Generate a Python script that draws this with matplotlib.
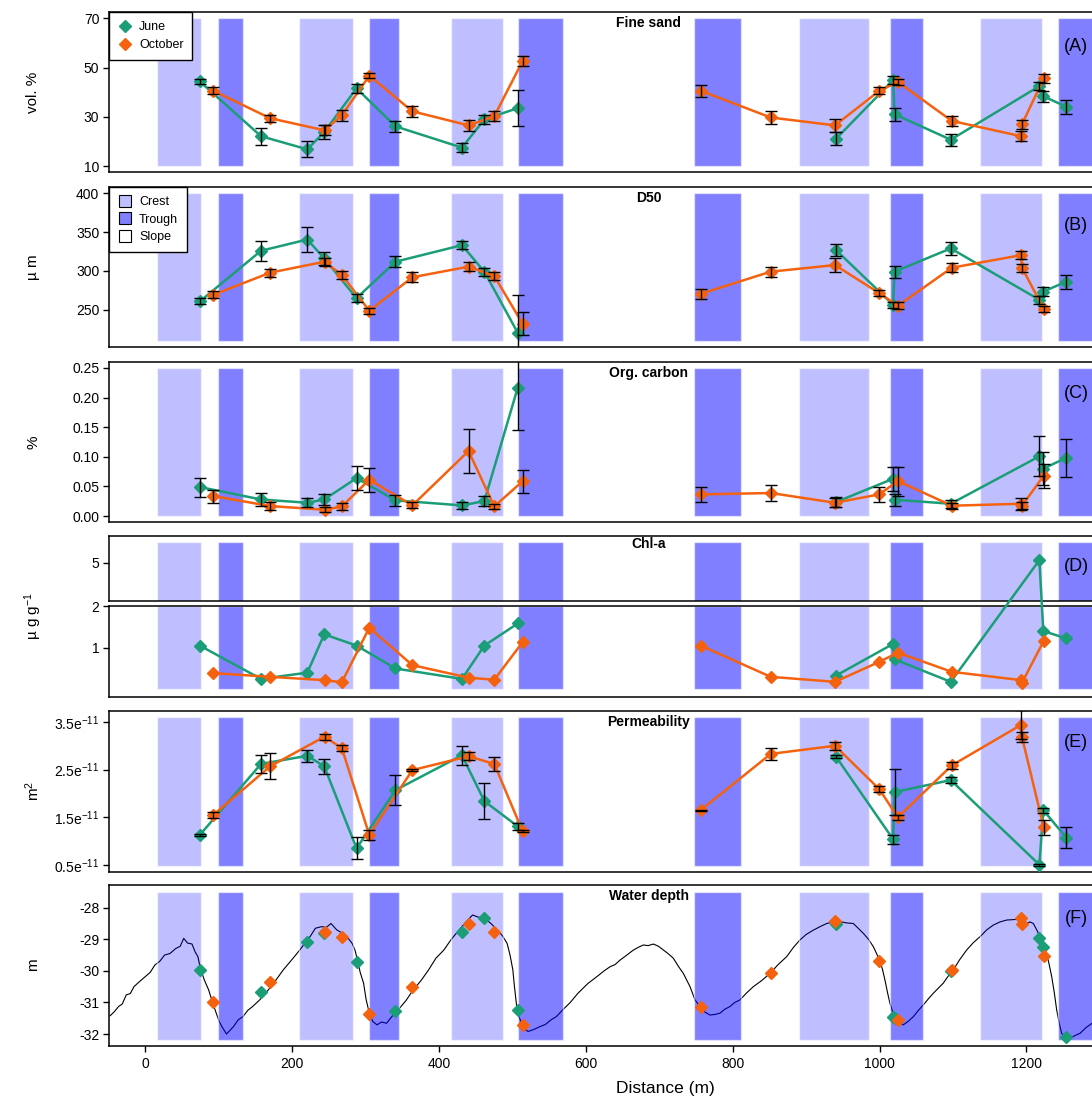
import matplotlib.pyplot as plt
from matplotlib.lines import Line2D
from matplotlib.patches import Rectangle

plt.rcParams['font.family'] = ['Liberation Sans', 'DejaVu Sans']
plt.rcParams['mathtext.default'] = 'regular'
plt.rcParams['axes.unicode_minus'] = False

# --- stations along the transect (m) ---
june_x = [74.6, 158, 221, 244, 288, 341, 431.5, 462, 507.5, 940.8, 1018.5, 1020.5, 1097, 1217.6, 1223, 1254.5]
oct_x = [93, 170.4, 244.4, 268, 305.4, 364, 440.5, 475.5, 514, 756.6, 851.9, 939.4, 999.7, 1025, 1098.5, 1193, 1194, 1223.5]

# (A) fine sand, vol. %
june_sand = [44.4, 22.2, 16.9, 23.9, 41.6, 26.2, 17.6, 29.0, 33.6, 21.2, 44.9, 31.1, 20.8, 42.5, 38.4, 34.1]
june_sand_se = [1.1, 3.4, 3.2, 2.9, 1.9, 2.2, 1.7, 1.7, 7.3, 2.7, 1.7, 2.7, 2.4, 1.5, 2.2, 2.7]
oct_sand = [40.6, 29.5, 24.6, 30.7, 46.7, 32.3, 26.6, 30.3, 52.6, 40.6, 29.8, 26.6, 40.6, 44.2, 28.4, 22.2, 27.1, 45.6]
oct_sand_se = [1.4, 1.5, 2.0, 2.2, 1.0, 2.2, 2.3, 2.0, 2.1, 2.4, 2.8, 2.7, 1.4, 1.2, 2.0, 2.0, 1.8, 1.8]

# (B) D50, um
june_d50 = [260.7, 325.9, 340.4, 316.1, 264.9, 311.8, 333.1, 299.0, 220.2, 326.7, 256.4, 299.0, 328.9, 262.8, 273.4, 286.2]
june_d50_se = [3.8, 13, 16, 8, 5, 6.8, 5.5, 5, 49, 7.7, 4, 7.9, 7.9, 5, 6, 9]
oct_d50 = [269.2, 297.7, 311.8, 294.8, 248.7, 291.8, 305.4, 293.5, 232.1, 270.5, 299.0, 307.5, 271.3, 255.1, 304.1, 320.3, 304.1, 250.9]
oct_d50_se = [4.3, 5, 5, 5, 3.8, 6.4, 6, 5, 14.5, 6.2, 6.4, 9, 4, 4.7, 6, 5.5, 5, 4.3]

# (C) organic carbon, %
june_oc = [0.049, 0.028, 0.0225, 0.028, 0.064, 0.0265, 0.018, 0.0253, 0.2168, 0.0236, 0.063, 0.0276, 0.0208, 0.1008, 0.08, 0.0985]
june_oc_se = [0.016, 0.0104, 0.008, 0.0099, 0.0206, 0.009, 0.0065, 0.009, 0.072, 0.0085, 0.0206, 0.01, 0.007, 0.034, 0.028, 0.032]
oct_oc = [0.0338, 0.0169, 0.0107, 0.0163, 0.0614, 0.018, 0.1098, 0.0163, 0.0586, 0.0366, 0.0389, 0.0225, 0.0366, 0.0591, 0.0175, 0.0208, 0.0175, 0.0681]
oct_oc_se = [0.011, 0.0065, 0.004, 0.006, 0.0203, 0.005, 0.0366, 0.004, 0.0197, 0.0127, 0.0132, 0.008, 0.0127, 0.0245, 0.005, 0.0099, 0.006, 0.02]

# (D) Chl-a, ug g-1
june_chl = [1.05, 0.25, 0.4, 1.32, 1.05, 0.5, 0.25, 1.05, 1.58, 0.33, 1.09, 0.72, 0.18, 5.06, 1.4, 1.22]
oct_chl = [0.39, 0.30, 0.22, 0.17, 1.48, 0.58, 0.28, 0.23, 1.13, 1.05, 0.30, 0.18, 0.66, 0.88, 0.42, 0.22, 0.16, 1.16]

# (E) permeability, x 1e-11 m2
june_perm = [1.13, 2.62, 2.79, 2.57, 0.85, 2.07, 2.80, 1.84, 1.31, 2.77, 1.04, 2.03, 2.28, 0.507, 1.65, 1.07]
june_perm_se = [0.03, 0.19, 0.12, 0.16, 0.23, 0.31, 0.2, 0.37, 0.07, 0.035, 0.1, 0.49, 0.07, 0.02, 0.05, 0.22]
oct_perm = [1.55, 2.57, 3.19, 2.95, 1.13, 2.49, 2.78, 2.62, 1.21, 1.65, 2.83, 3.0, 2.09, 1.50, 2.59, 3.44, 3.18, 1.29]
oct_perm_se = [0.07, 0.27, 0.06, 0.06, 0.1, 0.02, 0.08, 0.14, 0.02, 0.01, 0.13, 0.08, 0.06, 0.05, 0.07, 0.3, 0.11, 0.16]

# (F) water depth at the stations, m
june_depth = [-29.97, -30.68, -29.08, -28.8, -29.71, -31.27, -28.76, -28.34, -31.24, -28.53, -31.45, -31.5, -30.02, -28.97, -29.23, -32.08]
oct_depth = [-31.0, -30.34, -28.76, -28.92, -31.37, -30.5, -28.5, -28.76, -31.71, -31.13, -30.06, -28.42, -29.68, -31.55, -29.97, -28.34, -28.5, -29.53]

# bathymetric profile
prof_x = [-47.4, -42, -36, -31, -25.5, -20, -15, -8, 0.6, 7, 13.6, 20, 26.6, 34, 42, 48, 52.7, 58, 64, 68.3, 72,
          76, 81, 86.6, 92, 97, 101, 104.8, 111, 115, 120.3, 127, 133.4, 140, 146.5, 157, 167.3, 178, 188.2,
          198, 209, 217, 224.6, 232, 240.3, 247, 253.2, 261, 268.9, 276, 282, 286, 289.8, 293, 297.6, 301,
          305.4, 310, 315.9, 322, 328.8, 336, 344.5, 355, 365.3, 376, 386.1, 396, 406.9, 417, 427.8, 437,
          446, 454, 461.7, 471, 479.9, 487, 493, 497, 500.8, 503, 505.9, 509, 513.8, 517, 521.6, 530, 537.2,
          545, 552.9, 560, 568.5, 579, 589.4, 603, 617, 625, 633.1, 640, 646.7, 656, 664.9, 672, 678.5, 685,
          692.1, 699, 705.7, 712, 719.3, 726, 732.9, 742, 748.8, 755.6, 762, 769.2, 776, 782.8, 789, 796.4,
          803, 810, 819, 828.2, 840, 850.9, 862, 873.6, 883, 891.7, 900, 909.9, 919, 928, 937, 946.2, 955,
          964.3, 971, 977.9, 985, 991.5, 996, 1000.6, 1004, 1007.4, 1011, 1014.2, 1018, 1021, 1026, 1032.4,
          1039, 1046, 1053, 1059.6, 1066, 1073.2, 1080, 1086.8, 1094, 1100.5, 1109, 1118.6, 1128, 1136.8,
          1146, 1154.9, 1164, 1173.1, 1180, 1186.7, 1194, 1200.3, 1205, 1209.4, 1214, 1218.5, 1223, 1227.6,
          1231, 1234.4, 1238, 1241.2, 1245, 1248, 1253, 1259.3, 1266, 1272.9, 1281, 1289.3]
prof_z = [-31.42, -31.3, -31.13, -31.05, -30.76, -30.72, -30.5, -30.35, -30.18, -30.05, -29.81, -29.7, -29.5,
          -29.45, -29.29, -29.22, -28.97, -29.12, -29.15, -29.4, -29.55, -29.98, -30.3, -30.6, -31.0, -31.34,
          -31.6, -31.77, -32.0, -31.9, -31.77, -31.55, -31.45, -31.25, -31.13, -30.9, -30.62, -30.3, -29.97,
          -29.7, -29.39, -29.15, -28.92, -28.65, -28.6, -28.62, -28.5, -28.7, -28.81, -28.95, -29.13, -29.35,
          -29.72, -30.05, -30.39, -30.9, -31.34, -31.6, -31.71, -31.62, -31.66, -31.45, -31.24, -30.95, -30.6,
          -30.3, -29.97, -29.6, -29.34, -29.0, -28.7, -28.45, -28.23, -28.3, -28.32, -28.5, -28.71, -28.9,
          -29.13, -29.5, -29.97, -30.5, -31.1, -31.45, -31.71, -31.85, -31.92, -31.85, -31.77, -31.7, -31.55,
          -31.45, -31.24, -31.0, -30.71, -30.4, -30.15, -30.0, -29.87, -29.8, -29.66, -29.5, -29.34, -29.25,
          -29.18, -29.2, -29.15, -29.22, -29.34, -29.45, -29.6, -29.85, -30.08, -30.5, -30.92, -31.13, -31.3,
          -31.4, -31.38, -31.34, -31.22, -31.13, -31.0, -30.92, -30.7, -30.5, -30.3, -30.08, -29.8, -29.55,
          -29.25, -29.02, -28.85, -28.71, -28.6, -28.5, -28.45, -28.44, -28.48, -28.5, -28.65, -28.81, -29.0,
          -29.23, -29.45, -29.68, -29.95, -30.29, -30.7, -31.03, -31.3, -31.45, -31.6, -31.71, -31.6, -31.45,
          -31.25, -31.08, -30.9, -30.71, -30.55, -30.39, -30.15, -29.97, -29.65, -29.34, -29.1, -28.92, -28.7,
          -28.55, -28.45, -28.39, -28.38, -28.37, -28.42, -28.5, -28.45, -28.5, -28.7, -28.92, -29.2, -29.45,
          -29.8, -30.18, -30.7, -31.24, -31.7, -31.98, -32.1, -32.14, -32.05, -31.98, -31.8, -31.66]

crest_bands = [(15.9, 75.8), (210, 282.8), (416.2, 487), (890.8, 985.3), (1136.8, 1221.7)]
trough_bands = [(99.4, 133), (304.6, 346.2), (507.4, 569), (747.5, 811.8), (1014.7, 1059.2), (1243.5, 1310)]

GREEN = '#1B9E77'
ORANGE = '#F5620F'
CREST = (0, 0, 1, 0.25)
TROUGH = (0, 0, 1, 0.5)
EDGE = (1, 1, 1, 0.5)
XLIM = (-49, 1292)

W, H = 1092, 1100
fig = plt.figure(figsize=(W / 100, H / 100), dpi=100)


def px_axes(top, bottom):
    return fig.add_axes([109 / W, 1 - bottom / H, (W + 2 - 109) / W, (bottom - top) / H])


def style(ax, ylim, ticks, labels=None):
    ax.set_xlim(XLIM)
    ax.set_ylim(ylim)
    ax.set_xticks([])
    ax.set_yticks(ticks)
    if labels is not None:
        ax.set_yticklabels(labels)
    ax.tick_params(direction='out', length=4, width=1, labelsize=10, pad=3)
    for s in ax.spines.values():
        s.set_linewidth(1.1)


def bands(ax, y0, y1, z=0.5):
    for a, b in crest_bands:
        ax.add_patch(Rectangle((a, y0), b - a, y1 - y0, facecolor=CREST, edgecolor=EDGE, lw=1, zorder=z))
    for a, b in trough_bands:
        ax.add_patch(Rectangle((a, y0), b - a, y1 - y0, facecolor=TROUGH, edgecolor=EDGE, lw=1, zorder=z))


def series(ax, x, y, color, err=None):
    # the two halves of the transect are not joined
    for part in ([i for i in range(len(x)) if x[i] < 600], [i for i in range(len(x)) if x[i] >= 600]):
        ax.plot([x[i] for i in part], [y[i] for i in part], color=color, lw=1.8,
                marker='D', ms=6, mec=color, zorder=3)
    if err is not None:
        ax.errorbar(x, y, yerr=err, fmt='none', ecolor='black', elinewidth=1,
                    capsize=4, capthick=1, zorder=4)


def titles(ax, name, letter, ly=0.79):
    ax.text(686, 0.975, name, transform=ax.get_xaxis_transform(), ha='center', va='top',
            fontsize=10, fontweight='bold')
    ax.text(1268, ly, letter, transform=ax.get_xaxis_transform(), ha='center', va='center', fontsize=13)


# (A)
ax = px_axes(12.3, 172.3)
style(ax, (7.6, 72.4), [10, 30, 50, 70])
bands(ax, 10, 70)
series(ax, june_x, june_sand, GREEN, june_sand_se)
series(ax, oct_x, oct_sand, ORANGE, oct_sand_se)
titles(ax, 'Fine sand', '(A)', 0.785)
leg = ax.legend(handles=[Line2D([], [], ls='none', marker='D', ms=6, color=GREEN, label='June'),
                         Line2D([], [], ls='none', marker='D', ms=6, color=ORANGE, label='October')],
                loc='upper left', bbox_to_anchor=(0, 1), borderaxespad=0, fancybox=False,
                edgecolor='black', framealpha=1, fontsize=9, borderpad=0.7, handletextpad=0.5,
                labelspacing=0.5, handlelength=1.2)
leg.get_frame().set_linewidth(1)

# (B)
ax = px_axes(187.3, 346.7)
style(ax, (202.4, 407.6), [250, 300, 350, 400])
bands(ax, 210, 400)
series(ax, june_x, june_d50, GREEN, june_d50_se)
series(ax, oct_x, oct_d50, ORANGE, oct_d50_se)
titles(ax, 'D50', '(B)', 0.763)
leg = ax.legend(handles=[Line2D([], [], ls='none', marker='s', ms=8, mfc='#BFBFFF', mec='black', mew=0.8, label='Crest'),
                         Line2D([], [], ls='none', marker='s', ms=8, mfc='#8080FF', mec='black', mew=0.8, label='Trough'),
                         Line2D([], [], ls='none', marker='s', ms=8, mfc='white', mec='black', mew=0.8, label='Slope')],
                loc='upper left', bbox_to_anchor=(0, 1), borderaxespad=0, fancybox=False,
                edgecolor='black', framealpha=1, fontsize=9, borderpad=0.7, handletextpad=0.5,
                labelspacing=0.45, handlelength=1.2)
leg.get_frame().set_linewidth(1)

# (C)
ax = px_axes(362, 522)
style(ax, (-0.01, 0.26), [0, 0.05, 0.10, 0.15, 0.20, 0.25],
      ['0.00', '0.05', '0.10', '0.15', '0.20', '0.25'])
bands(ax, 0, 0.25)
series(ax, june_x, june_oc, GREEN, june_oc_se)
series(ax, oct_x, oct_oc, ORANGE, oct_oc_se)
titles(ax, 'Org. carbon', '(C)', 0.806)

# (D) broken axis: upper and lower frames, data drawn on a shared overlay
ax_up = px_axes(535.7, 601.3)
style(ax_up, (4.073, 5.647), [5])
bands(ax_up, 4.073, 5.496)
titles(ax_up, 'Chl-a', '(D)', 0.538)
ax_lo = px_axes(606, 697)
style(ax_lo, (-0.184, 2.0), [1, 2])
bands(ax_lo, 0, 2)
ax_d = px_axes(535.7, 697)
ax_d.set_xlim(XLIM)
ax_d.set_ylim(-0.184, 3.687)
ax_d.set_axis_off()
GAP = 1.96
series(ax_d, june_x, [v if v < 3 else v - GAP for v in june_chl], GREEN)
series(ax_d, oct_x, [v if v < 3 else v - GAP for v in oct_chl], ORANGE)

# (E)
ax = px_axes(710.7, 871.5)
style(ax, (0.365, 3.735), [0.5, 1.5, 2.5, 3.5],
      [r'$0.5e^{-11}$', r'$1.5e^{-11}$', r'$2.5e^{-11}$', r'$3.5e^{-11}$'])
bands(ax, 0.49, 3.61)
series(ax, june_x, june_perm, GREEN, june_perm_se)
series(ax, oct_x, oct_perm, ORANGE, oct_perm_se)
titles(ax, 'Permeability', '(E)', 0.8)

# (F)
ax = px_axes(885, 1046)
style(ax, (-32.38, -27.28), [-32, -31, -30, -29, -28])
ax.plot(prof_x, prof_z, color='black', lw=0.8, zorder=1)
bands(ax, -32.19, -27.49, z=2)
ax.plot(june_x, june_depth, ls='none', marker='D', ms=6, color=GREEN, zorder=3)
ax.plot(oct_x, oct_depth, ls='none', marker='D', ms=6, color=ORANGE, zorder=3)
ax.set_xticks([0, 200, 400, 600, 800, 1000, 1200])
ax.tick_params(axis='x', labelsize=10, pad=4)
titles(ax, 'Water depth', '(F)', 0.79)

# axis labels
for yc, lab in [(92, 'vol. %'), (267, 'µ m'), (442, '%'), (616, 'µ g g$^{-1}$'),
                (791, 'm$^{2}$'), (965, 'm')]:
    fig.text(33 / W, 1 - yc / H, lab, rotation=90, ha='center', va='center', fontsize=11)
fig.text(665 / W, 1 - 1088 / H, 'Distance (m)', ha='center', va='center', fontsize=12.5)

fig.savefig('out.png', dpi=100)
